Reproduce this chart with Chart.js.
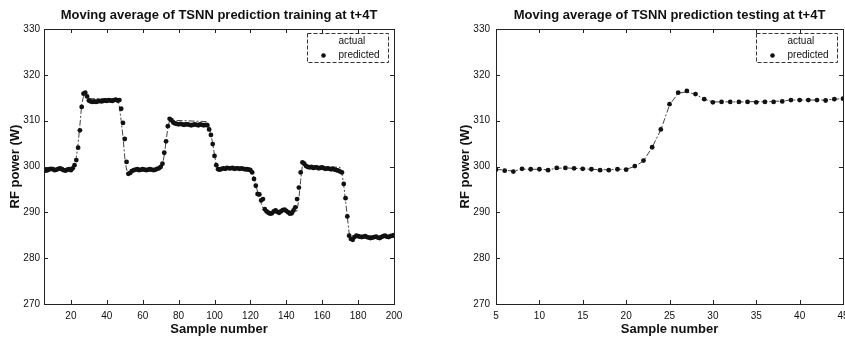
<!DOCTYPE html>
<html>
<head>
<meta charset="utf-8">
<script src="https://cdn.jsdelivr.net/npm/chart.js@4.4.0/dist/chart.umd.min.js"></script>
<style>
html, body { margin: 0; padding: 0; background: #fff; overflow: hidden; }
.panel { position: absolute; top: 0; height: 341px; }
#leftPanel { left: 0; width: 420px; }
#rightPanel { left: 420px; width: 431px; }
</style>
</head>
<body>
<div class="panel" id="leftPanel"><canvas id="trainChart"></canvas></div>
<div class="panel" id="rightPanel"><canvas id="testChart"></canvas></div>
<script>
// sample numbers start at 5 (moving average window)
const trainStart = 5;
const trainPredicted = [
    299.3, 299.1, 299.2, 299.4, 299.5, 299.4, 299.2, 299.3, 299.5, 299.6, 299.4, 299.2, 299.1, 299.3, 299.4, 299.2,
    299.6, 300.3, 301.4, 304.1, 307.9, 313.0, 315.9, 316.1, 315.3, 314.4,
    314.2, 314.1, 314.2, 314.1, 314.2, 314.3, 314.2, 314.3, 314.4, 314.3,
    314.5, 314.4, 314.3, 314.5, 314.6, 314.4, 314.5, 312.6, 309.5, 306.0,
    301.0, 298.4, 298.6, 299.0, 299.2, 299.3, 299.4, 299.2, 299.3, 299.4,
    299.3, 299.2, 299.3, 299.4, 299.3, 299.2, 299.3, 299.5, 299.6, 299.9,
    300.6, 303.0, 305.5, 308.8, 310.4, 310.1, 309.6, 309.4, 309.3, 309.2,
    309.3, 309.2, 309.1, 309.2, 309.2, 309.1, 309.0, 309.1, 309.2, 309.1,
    309.0, 309.2, 309.1, 309.0, 309.1, 309.0, 308.1, 306.9, 304.9, 302.3,
    300.3, 299.4, 299.3, 299.5, 299.6, 299.5, 299.7, 299.6, 299.6, 299.7,
    299.5, 299.6, 299.6, 299.5, 299.6, 299.5, 299.4, 299.4, 299.3, 299.2,
    298.7, 297.3, 295.8, 294.0, 293.9, 292.6, 292.9, 290.7, 290.2, 289.9,
    289.7, 289.8, 290.2, 290.4, 290.1, 289.9, 290.2, 290.5, 290.6, 290.3,
    290.0, 289.7, 289.8, 290.4, 291.1, 292.9, 295.4, 298.7, 300.9, 300.6,
    300.1, 299.9, 299.8, 299.9, 299.7, 299.8, 299.8, 299.6, 299.7, 299.8,
    299.6, 299.5, 299.6, 299.5, 299.4, 299.5, 299.3, 299.2, 299.1, 298.9,
    298.7, 296.2, 293.1, 289.1, 284.9, 284.2, 284.0, 284.6, 284.9, 284.8,
    284.7, 284.6, 284.7, 284.8, 284.6, 284.5, 284.4, 284.5, 284.6, 284.7,
    284.5, 284.4, 284.6, 284.8, 284.9, 284.7, 284.6, 284.8, 284.9, 285.0
];
// actual curve vertices (sample, power)
const trainActualX = [5, 20, 21, 22, 23, 24, 25, 26, 27, 28, 30, 46, 47, 48, 49, 50, 51, 70, 71, 72, 73, 74, 75, 96, 97, 98, 99, 100, 101, 102,
    120, 121, 122, 123, 124, 125, 126, 127, 128, 146, 147, 148, 149, 170, 171, 172, 173, 174, 175, 176, 200];
const trainActualY = [299.4, 299.4, 299.8, 300.5, 302.0, 305.0, 309.0, 313.5, 315.3, 315.4, 314.8, 314.8, 313.0, 310.0, 306.5, 302.0, 299.2, 299.4, 300.3, 302.5, 305.5, 308.5, 310.1, 309.8, 308.6, 307.0, 305.0, 302.5, 300.2, 299.6,
    299.7, 299.0, 297.5, 296.0, 294.5, 293.0, 292.0, 291.0, 290.3, 290.3, 293.0, 297.0, 300.3, 299.8, 298.5, 296.0, 292.5, 289.0, 285.5, 284.8, 284.8];

const testStart = 5;
const testPredicted = [
    299.3, 299.1, 298.9, 299.5, 299.4, 299.4, 299.2, 299.7, 299.7, 299.6, 299.5, 299.4, 299.2, 299.2, 299.4, 299.3,
    300.1, 301.3, 304.2, 308.1, 313.6,
    316.1, 316.5, 315.8, 314.7, 314.0, 314.1, 314.1, 314.1, 314.1, 314.0,
    314.1, 314.1, 314.2, 314.5, 314.5, 314.5, 314.5, 314.4, 314.7, 314.8
];
const testActual = [
    299.4, 299.2, 299.0, 299.4, 299.4, 299.4, 299.3, 299.6, 299.7, 299.6, 299.5, 299.4, 299.3, 299.3, 299.4, 299.4,
    300.0, 301.2, 304.2, 308.0, 313.4,
    316.0, 316.3, 315.7, 314.7, 314.1, 314.1, 314.1, 314.1, 314.1, 314.2,
    314.1, 314.2, 314.3, 314.5, 314.5, 314.5, 314.5, 314.5, 314.7, 314.8
];

const trainXTicks = [20, 40, 60, 80, 100, 120, 140, 160, 180, 200];
const testXTicks = [5, 10, 15, 20, 25, 30, 35, 40, 45];
const yTicks = [270, 280, 290, 300, 310, 320, 330];
const legendLabels = ['actual', 'predicted'];

const ink = '#111';

// axes box, inward ticks, title and legend (MATLAB look)
const matlabFrame = {
    id: 'matlabFrame',
    afterDraw(chart, args, opts) {
        const {ctx, chartArea: a, scales} = chart;
        ctx.save();
        ctx.strokeStyle = '#222';
        ctx.lineWidth = 1;
        ctx.strokeRect(Math.round(a.left) + 0.5, Math.round(a.top) + 0.5, Math.round(a.width), Math.round(a.height));

        ctx.beginPath();
        scales.x.ticks.forEach(t => {
            const px = Math.round(scales.x.getPixelForValue(t.value)) + 0.5;
            ctx.moveTo(px, a.bottom); ctx.lineTo(px, a.bottom - 4);
            ctx.moveTo(px, a.top); ctx.lineTo(px, a.top + 4);
        });
        scales.y.ticks.forEach(t => {
            const py = Math.round(scales.y.getPixelForValue(t.value)) + 0.5;
            ctx.moveTo(a.left, py); ctx.lineTo(a.left + 4, py);
            ctx.moveTo(a.right, py); ctx.lineTo(a.right - 4, py);
        });
        ctx.stroke();

        // title
        ctx.fillStyle = ink;
        ctx.font = 'bold 13px "Liberation Sans", Arial, sans-serif';
        ctx.textAlign = 'center';
        ctx.textBaseline = 'middle';
        ctx.fillText(opts.title, (a.left + a.right) / 2, 15);

        // legend
        const bw = 81, bh = 29;
        const bx = Math.round(a.right - 6 - bw) + 0.5;
        const by = Math.round(a.top + 4) + 0.5;
        ctx.setLineDash([4, 2]);
        ctx.strokeStyle = '#333';
        ctx.strokeRect(bx, by, bw, bh);
        ctx.setLineDash([]);
        ctx.font = '10px "Liberation Sans", Arial, sans-serif';
        ctx.textAlign = 'left';
        ctx.fillText(legendLabels[0], bx + 31, by + 8);
        ctx.fillText(legendLabels[1], bx + 31, by + 22);
        ctx.beginPath();
        ctx.arc(bx + 16, by + 22, 2.3, 0, Math.PI * 2);
        ctx.fill();
        ctx.restore();
    }
};

function makeChart(canvasId, cfg) {
    const ctx = document.getElementById(canvasId);
    return new Chart(ctx, {
        type: 'scatter',
        data: {
            datasets: [
                {
                    label: legendLabels[1],
                    data: cfg.predicted,
                    showLine: false,
                    pointRadius: 2.4,
                    pointBackgroundColor: ink,
                    pointBorderWidth: 0
                },
                {
                    label: legendLabels[0],
                    data: cfg.actual,
                    showLine: true,
                    borderColor: '#444',
                    borderWidth: 1,
                    borderDash: [6, 2, 2, 2],
                    pointRadius: 0,
                    tension: 0
                }
            ]
        },
        options: {
            responsive: true,
            maintainAspectRatio: false,
            animation: false,
            layout: { padding: { left: cfg.padLeft, right: cfg.padRight, top: 29, bottom: 0 } },
            plugins: {
                legend: { display: false },
                tooltip: { enabled: false },
                matlabFrame: { title: cfg.title }
            },
            scales: {
                x: {
                    type: 'linear',
                    min: cfg.xMin,
                    max: cfg.xMax,
                    afterBuildTicks: s => { s.ticks = cfg.xTicks.map(v => ({ value: v })); },
                    afterFit: s => {
                        s.height = 37;
                        s.paddingLeft = 0;
                        s.paddingRight = 0;
                    },
                    grid: { display: false, drawTicks: false },
                    border: { display: false },
                    ticks: {
                        color: ink,
                        padding: 6,
                        maxRotation: 0,
                        font: { size: 10, family: '"Liberation Sans", Arial, sans-serif' }
                    },
                    title: {
                        display: true,
                        text: 'Sample number',
                        color: ink,
                        padding: { top: 0, bottom: 4 },
                        font: { size: 13, weight: 'bold', family: '"Liberation Sans", Arial, sans-serif' }
                    }
                },
                y: {
                    min: 270,
                    max: 330,
                    afterBuildTicks: s => { s.ticks = yTicks.map(v => ({ value: v })); },
                    afterFit: s => { s.width = cfg.yWidth; },
                    grid: { display: false, drawTicks: false },
                    border: { display: false },
                    ticks: {
                        color: ink,
                        padding: cfg.yPad,
                        font: { size: 10, family: '"Liberation Sans", Arial, sans-serif' }
                    },
                    title: {
                        display: true,
                        text: 'RF power (W)',
                        color: ink,
                        padding: { top: 8, bottom: 0 },
                        font: { size: 13, weight: 'bold', family: '"Liberation Sans", Arial, sans-serif' }
                    }
                }
            }
        },
        plugins: [matlabFrame]
    });
}

makeChart('trainChart', {
    title: 'Moving average of TSNN prediction training at t+4T',
    predicted: trainPredicted.map((v, i) => ({ x: trainStart + i, y: v })),
    actual: trainActualX.map((x, i) => ({ x: x, y: trainActualY[i] })),
    xMin: 5, xMax: 200, xTicks: trainXTicks,
    padLeft: 0, padRight: 26, yWidth: 44, yPad: 4
});

makeChart('testChart', {
    title: 'Moving average of TSNN prediction testing at t+4T',
    predicted: testPredicted.map((v, i) => ({ x: testStart + i, y: v })),
    actual: testActual.map((v, i) => ({ x: testStart + i, y: v })),
    xMin: 5, xMax: 45, xTicks: testXTicks,
    padLeft: 30, padRight: 8, yWidth: 46, yPad: 6
});
</script>
</body>
</html>
